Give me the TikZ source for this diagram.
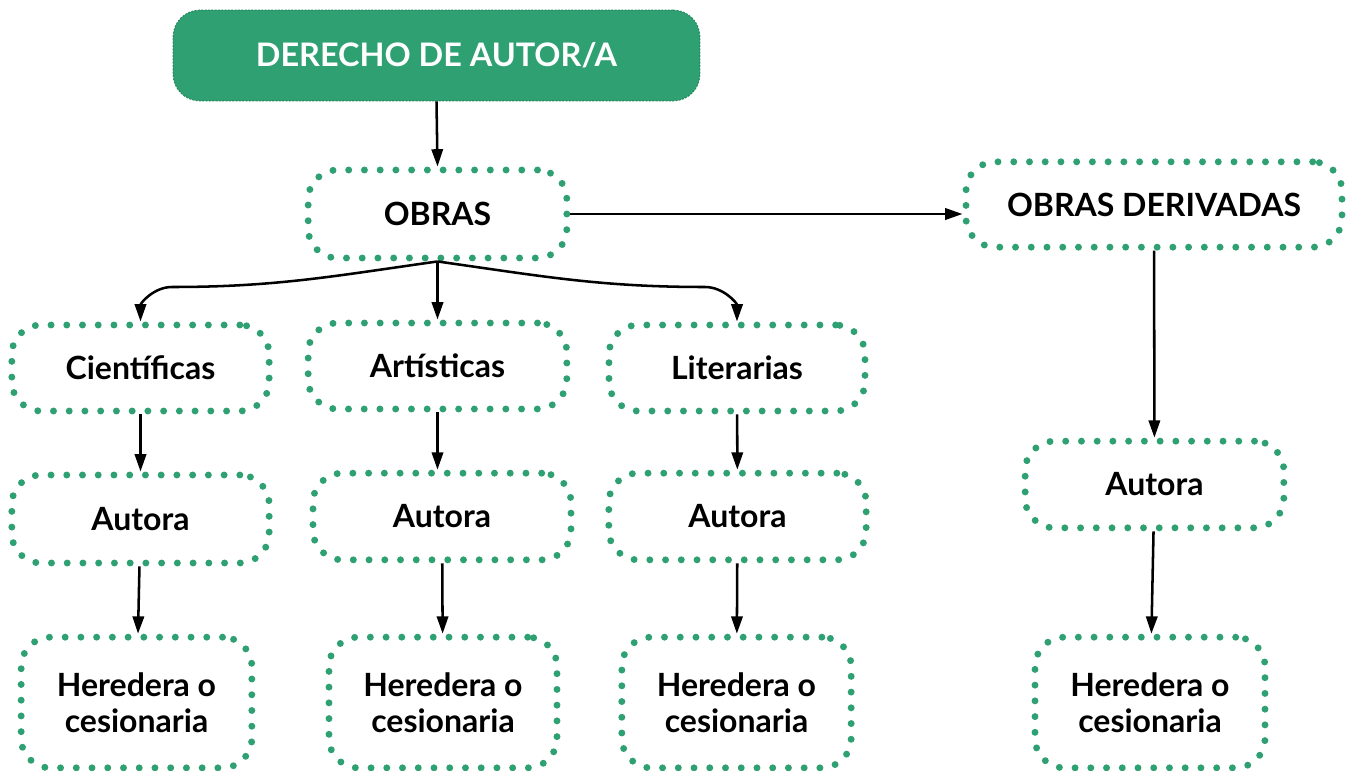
\documentclass[tikz,border=0pt]{standalone}
\usepackage{fontspec}
\setmainfont{Lato}
\usetikzlibrary{arrows.meta}
\definecolor{gr}{HTML}{2FA072}
\definecolor{grd}{HTML}{268A60}
\begin{document}
\begin{tikzpicture}[x=0.75pt,y=-0.75pt,
  box/.style={draw=gr, line width=5.2pt, dash pattern=on 0pt off 11.8pt, line cap=round,
    rounded corners=22pt, font=\bfseries\fontsize{24}{27}\selectfont, align=center, inner sep=0pt, text=black},
  arr/.style={line width=1.9pt, -{Triangle[length=13pt,width=8.5pt]}}]
\useasboundingbox[fill=white] (0,0) rectangle (1347,771);
\node[fill=gr, draw=grd, line width=0.8pt, dash pattern=on 1.5pt off 1pt, rounded corners=20pt,
  minimum width=395pt, minimum height=68pt, text=white, font=\bfseries\fontsize{24.3}{28}\selectfont] (top) at (436.5,55.5) {DERECHO DE AUTOR/A};
\node[box, minimum width=194pt, minimum height=66pt] (obras) at (437.5,214) {OBRAS};
\node[box, minimum width=282pt, minimum height=64pt] (deriv) at (1154,204.5) {OBRAS DERIVADAS};
\node[box, minimum width=193pt, minimum height=64.5pt] (cient) at (140.5,368) {Científicas};
\node[box, minimum width=194pt, minimum height=64.5pt] (art) at (437.5,366) {Artísticas};
\node[box, minimum width=192pt, minimum height=64.5pt] (lit) at (737,368) {Literarias};
\node[box, minimum width=193pt, minimum height=66pt] (a1) at (140.5,519) {Autora};
\node[box, minimum width=193.5pt, minimum height=65pt] (a2) at (442,516.5) {Autora};
\node[box, minimum width=193pt, minimum height=65pt] (a3) at (737.5,516.5) {Autora};
\node[box, minimum width=194pt, minimum height=65pt] (a4) at (1154.5,484.5) {Autora};
\node[box, minimum width=173pt, minimum height=98pt] (h1) at (136.5,702.5) {Heredera o\\cesionaria};
\node[box, minimum width=171pt, minimum height=98pt] (h2) at (443,702.5) {Heredera o\\cesionaria};
\node[box, minimum width=172pt, minimum height=98pt] (h3) at (736.5,702.5) {Heredera o\\cesionaria};
\node[box, minimum width=172.5pt, minimum height=98pt] (h4) at (1150,702.5) {Heredera o\\cesionaria};
\coordinate (cl) at (172,287);
\coordinate (cr) at (705,287);
\draw[arr] (top.south) -- (obras.north);
\draw[arr] (obras.east) -- (obras.east -| deriv.west);
\draw[arr] (obras.south) to[out=188,in=0] (cl) to[out=180,in=90] (cient.north);
\draw[arr] (obras.south) -- (art.north);
\draw[arr] (obras.south) to[out=-8,in=180] (cr) to[out=0,in=90] (lit.north);
\draw[arr] (cient) -- (a1);
\draw[arr] (art.south) -- (art.south |- a2.north);
\draw[arr] (lit) -- (a3);
\draw[arr] (a1) -- (h1);
\draw[arr] (a2) -- (h2);
\draw[arr] (a3) -- (h3);
\draw[arr] (deriv) -- (a4);
\draw[arr] (a4) -- (h4);
\end{tikzpicture}
\end{document}
